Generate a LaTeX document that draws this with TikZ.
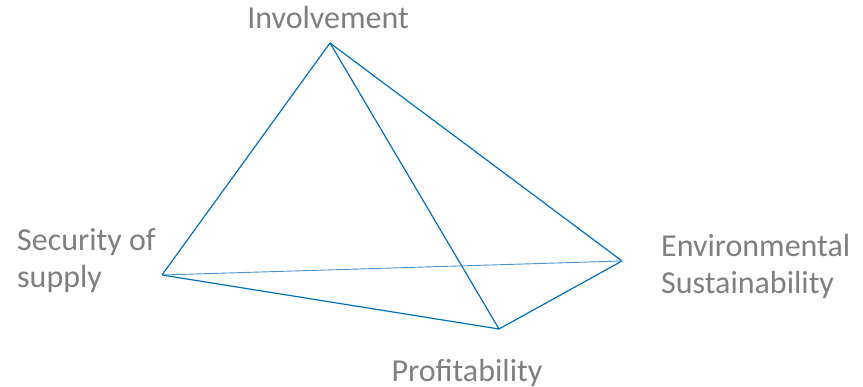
\documentclass[tikz,border=0pt]{standalone}
\usepackage{fontspec}
\setmainfont{Carlito}
\definecolor{edgeblue}{HTML}{0070C0}
\definecolor{lightedge}{HTML}{4A92D2}
\definecolor{labelgray}{HTML}{7F7F7F}
\tikzset{
  corner/.style={inner sep=0pt, minimum size=0pt},
  lbl/.style={inner sep=0pt, text=labelgray, font=\fontsize{32}{37}\selectfont},
  edge/.style={edgeblue, line width=1.2pt, line join=round}
}
\begin{document}
\begin{tikzpicture}[x=1pt, y=-1pt]
\useasboundingbox[fill=white] (0,0) rectangle (863,387);
\coordinate (vinv) at (330,43);
\coordinate (vsec) at (162,275);
\coordinate (venv) at (622,261);
\coordinate (vpro) at (499,329);
\node[lbl, anchor=base] (linv) at (328,29) {Involvement};
\node[lbl, anchor=base west, align=left] (lsec) at (17,288) {Security of\\supply};
\node[lbl, anchor=base west, align=left] (lenv) at (661,294) {Environmental\\Sustainability};
\node[lbl, anchor=base] (lpro) at (467,382) {Profitability};
\draw[edge] (vinv) -- (vsec);
\draw[edge] (vinv) -- (venv);
\draw[edge] (vinv) -- (vpro);
\draw[edge] (vsec) -- (vpro);
\draw[edge] (vpro) -- (venv);
\draw[edge, lightedge, line width=0.9pt] (vsec) -- (venv);
\end{tikzpicture}
\end{document}
